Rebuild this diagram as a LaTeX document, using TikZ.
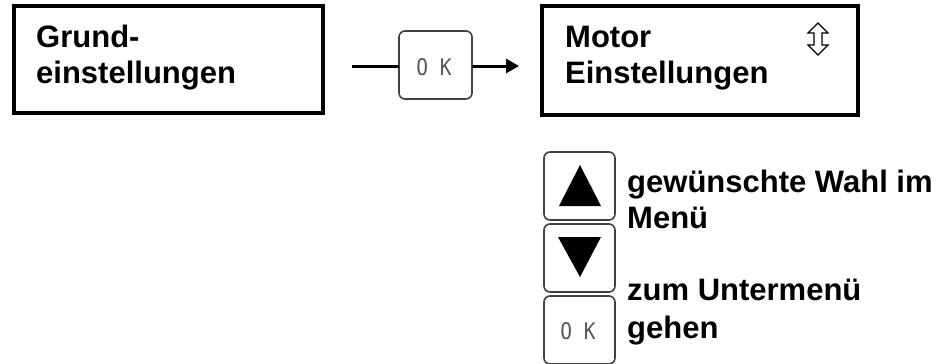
\documentclass[tikz,border=0pt]{standalone}
\usepackage{fontspec}
\setmainfont{Liberation Sans}
\newfontfamily\keyfont{DejaVu Sans Mono}
\usetikzlibrary{arrows.meta}
\begin{document}
\begin{tikzpicture}[x=1pt,y=-1pt,
  menubox/.style={draw=black,line width=3.5pt},
  label/.style={font=\fontsize{31}{36}\selectfont\bfseries,anchor=base west,inner sep=0pt},
  keybox/.style={draw=black!75,line width=1.6pt,rounded corners=6pt},
  keytext/.style={font=\keyfont\fontsize{23}{23}\selectfont,text=black!65,inner sep=0pt,xscale=0.85},
  conn/.style={line width=3pt}]
\useasboundingbox (0,0) rectangle (946,364);

% menu boxes
\draw[menubox] (14,6) rectangle (323,113);
\node[label] (g1) at (36,47) {Grund-};
\node[label] (g2) at (36,83) {einstellungen};

\draw[menubox] (542,6) rectangle (858,115);
\node[label] (m1) at (565,47) {Motor};
\node[label] (m2) at (565,83) {Einstellungen};

% up/down scroll hint
\draw[line width=1.2pt,line join=miter]
  (818,23) -- (828,33) -- (822,33) -- (822,45) -- (828,45) -- (818,55)
  -- (808,45) -- (814,45) -- (814,33) -- (808,33) -- cycle;

% OK key between the menus
\draw[keybox] (399,31) rectangle (472,99);
\coordinate (okL) at (399,66);
\coordinate (okR) at (472,66);
\node[keytext] (ok) at (434,67) {O K};
\coordinate (lineStart) at (352,66);
\coordinate (arrowEnd) at (519,66);
\draw[conn] (lineStart) -- (okL);
\draw[conn,-{Triangle[length=13pt,width=14pt]}] (okR) -- (arrowEnd);

% key legend
\draw[keybox] (544,152) rectangle (615,220);
\fill (580,165) -- (601,206) -- (559,206) -- cycle;
\draw[keybox] (544,224) rectangle (615,292);
\fill (558,237) -- (601,237) -- (580,277) -- cycle;
\draw[keybox] (544,296) rectangle (615,364);
\node[keytext] (ok2) at (578,331) {O K};

\node[label] (t1) at (627,192) {gewünschte Wahl im};
\node[label] (t2) at (627,228) {Menü};
\node[label] (t3) at (627,300) {zum Untermenü};
\node[label] (t4) at (627,338) {gehen};
\end{tikzpicture}
\end{document}
